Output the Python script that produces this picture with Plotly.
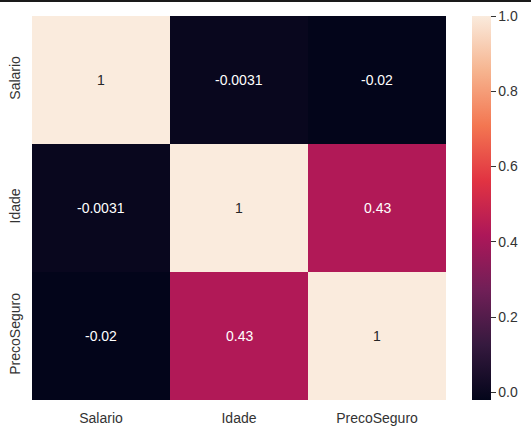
import plotly.graph_objects as go

# matriz de correlacao
variaveis = ["Salario", "Idade", "PrecoSeguro"]
corr = [
    [1.0, -0.0031, -0.02],
    [-0.0031, 1.0, 0.43],
    [-0.02, 0.43, 1.0],
]
rotulos = [
    ["1", "-0.0031", "-0.02"],
    ["-0.0031", "1", "0.43"],
    ["-0.02", "0.43", "1"],
]
cbar_ticks = [0.0, 0.2, 0.4, 0.6, 0.8, 1.0]

# aproximacao do colormap "rocket" do seaborn
rocket = [
    [0.0, "#03051a"],
    [0.143, "#35193e"],
    [0.286, "#701f57"],
    [0.429, "#ad1759"],
    [0.571, "#e13342"],
    [0.714, "#f37651"],
    [0.857, "#f6b48f"],
    [1.0, "#faebdd"],
]

vmin, vmax = -0.02, 1.0
fonte = "Liberation Sans, Arial, sans-serif"

fig = go.Figure(go.Heatmap(
    z=corr, x=variaveis, y=variaveis,
    colorscale=rocket, zmin=vmin, zmax=vmax,
    hoverinfo="skip",
    colorbar=dict(
        x=1.063, xanchor="left", y=0.5, yanchor="middle",
        len=1, lenmode="fraction", thickness=19, xpad=0, ypad=0,
        outlinewidth=0, tickvals=cbar_ticks, tickformat=".1f",
        ticks="outside", ticklen=5, tickcolor="#333",
        tickfont=dict(size=14, color="#333", family=fonte),
    ),
))

# texto: escuro nas celulas claras, branco nas escuras
for i, linha in enumerate(corr):
    for j, v in enumerate(linha):
        fig.add_annotation(x=variaveis[j], y=variaveis[i], text=rotulos[i][j],
                           showarrow=False,
                           font=dict(size=14, family=fonte,
                                     color="#262626" if v > 0.6 else "white"))

fig.update_xaxes(showgrid=False, zeroline=False, showline=False, ticks="",
                 automargin=False, ticklabelstandoff=8,
                 tickfont=dict(size=14, color="#333"))
fig.update_yaxes(showgrid=False, zeroline=False, showline=False, ticks="",
                 automargin=False, autorange="reversed", tickangle=-90,
                 ticklabelstandoff=8, tickfont=dict(size=14, color="#333"))

fig.update_layout(
    width=531, height=432,
    margin=dict(l=32, r=85, t=16, b=32, autoexpand=False),
    paper_bgcolor="white", plot_bgcolor="white",
    font=dict(family=fonte),
    shapes=[dict(type="line", xref="paper", yref="paper",
                 x0=-0.1, x1=1.3, y0=1.039, y1=1.039,
                 line=dict(color="#1a1a1a", width=2))],
)

# sem margem do body, para a figura ficar no canto da janela
fig.write_html("out.html", config={"displayModeBar": False},
               post_script="document.body.style.margin='0';")
